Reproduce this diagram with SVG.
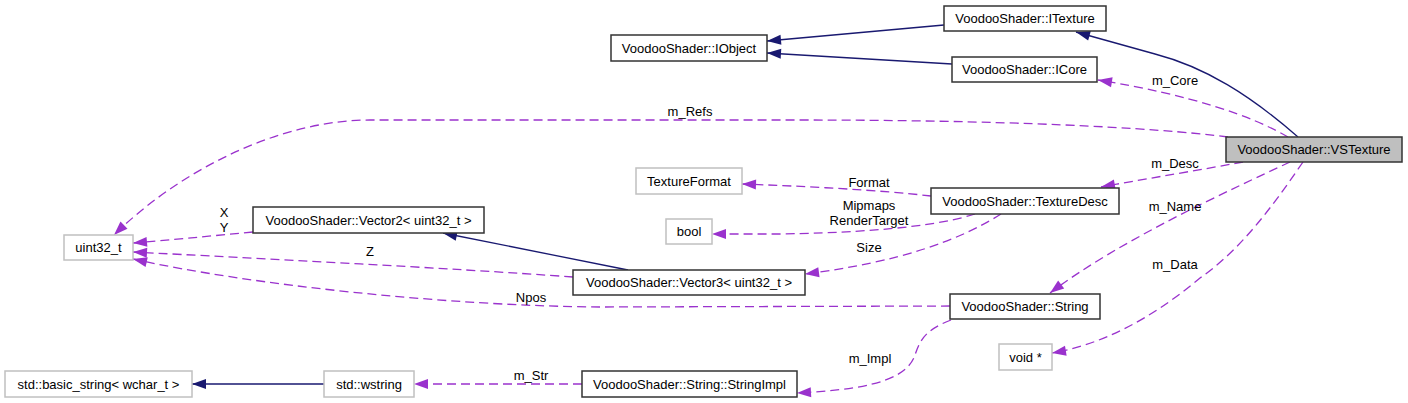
<svg xmlns="http://www.w3.org/2000/svg" width="1408" height="403" viewBox="0 0 1408 403">
<style>
text{font-family:"Liberation Sans",Arial,sans-serif;font-size:13px;fill:#000}
.n text{text-anchor:middle}
.b{fill:#fff;stroke:#333;stroke-width:1.5}
.g{fill:#fff;stroke:#c0c0c0;stroke-width:1.5}
.cur{fill:#bfbfbf;stroke:#333;stroke-width:1.5}
.inh{fill:none;stroke:#191970;stroke-width:1.3;marker-end:url(#ab)}
.use{fill:none;stroke:#9a32cd;stroke-width:1.3;stroke-dasharray:9,5;marker-end:url(#ap)}
.lbl{text-anchor:middle}
</style>
<defs>
<marker id="ab" markerUnits="userSpaceOnUse" markerWidth="16" markerHeight="12" refX="14" refY="5" orient="auto" overflow="visible"><polygon points="0,0 14,5 0,10" fill="#191970"/></marker>
<marker id="ap" markerUnits="userSpaceOnUse" markerWidth="16" markerHeight="12" refX="14" refY="5" orient="auto" overflow="visible"><polygon points="0,0 14,5 0,10" fill="#9a32cd"/></marker>
</defs>
<g id="edges">
<path class="inh" d="M944,25 L767,41"/>
<path class="inh" d="M952,64 L767,53"/>
<path class="inh" d="M1298,137 C1250,95 1205,67 1155,54 L1076,32"/>
<path class="use" d="M1288,137 C1250,115 1190,95 1098,80"/>
<path class="use" d="M1228,137 C1150,127 1000,120 800,120 L370,120 C280,120 180,170 114,235"/>
<path class="use" d="M1243,162 C1200,170 1150,178 1101,187"/>
<path class="use" d="M1290,162 C1230,190 1120,240 1050,293"/>
<path class="use" d="M1303,162 C1270,210 1240,250 1200,278 C1150,320 1100,345 1052,353"/>
<path class="use" d="M931,196 C880,190 800,186 742,184"/>
<path class="use" d="M975,214 C950,222 900,232 780,234 L712,234"/>
<path class="use" d="M1001,214 C960,240 900,262 805,274"/>
<path class="inh" d="M628,270 L443,233"/>
<path class="use" d="M253,232 C210,236 170,240 133,243"/>
<path class="use" d="M573,277 C450,268 250,258 133,252"/>
<path class="use" d="M950,306 L600,307 C450,306 250,285 133,259"/>
<path class="use" d="M951,320 C925,330 920,340 915,355 C905,385 850,390 797,393"/>
<path class="use" d="M582,384 L414,384"/>
<path class="inh" d="M324,384 L192,384"/>
<text class="lbl" x="690" y="116">m_Refs</text>
<text class="lbl" x="1175" y="85">m_Core</text>
<text class="lbl" x="1175" y="168">m_Desc</text>
<text class="lbl" x="1175" y="211">m_Name</text>
<text class="lbl" x="1175" y="269">m_Data</text>
<text class="lbl" x="869" y="187">Format</text>
<text class="lbl" x="869" y="210">Mipmaps</text>
<text class="lbl" x="869" y="225">RenderTarget</text>
<text class="lbl" x="869" y="252">Size</text>
<text class="lbl" x="224" y="217">X</text>
<text class="lbl" x="224" y="232">Y</text>
<text class="lbl" x="370" y="256">Z</text>
<text class="lbl" x="531" y="302">Npos</text>
<text class="lbl" x="870" y="363">m_Impl</text>
<text class="lbl" x="531" y="380">m_Str</text>
</g>
<g id="ITexture" class="n"><rect class="b" x="944" y="6" width="162" height="25"/><text x="1025" y="23">VoodooShader::ITexture</text></g>
<g id="IObject" class="n"><rect class="b" x="611" y="35" width="156" height="26"/><text x="689" y="52.5">VoodooShader::IObject</text></g>
<g id="ICore" class="n"><rect class="b" x="952" y="57" width="145" height="25"/><text x="1024.5" y="74">VoodooShader::ICore</text></g>
<g id="VSTexture" class="n"><rect class="cur" x="1226" y="137" width="176" height="25"/><text x="1314" y="154">VoodooShader::VSTexture</text></g>
<g id="TextureFormat" class="n"><rect class="g" x="636" y="168" width="106" height="26"/><text x="689" y="185.5">TextureFormat</text></g>
<g id="TextureDesc" class="n"><rect class="b" x="931" y="188" width="188" height="26"/><text x="1025" y="205.5">VoodooShader::TextureDesc</text></g>
<g id="uint32_t" class="n"><rect class="g" x="64" y="235" width="69" height="25"/><text x="98.5" y="252">uint32_t</text></g>
<g id="Vector2" class="n"><rect class="b" x="253" y="207" width="231" height="26"/><text x="368.5" y="224.5">VoodooShader::Vector2&lt; uint32_t &gt;</text></g>
<g id="bool" class="n"><rect class="g" x="666" y="219" width="46" height="25"/><text x="689" y="236">bool</text></g>
<g id="Vector3" class="n"><rect class="b" x="573" y="270" width="232" height="25"/><text x="689" y="287">VoodooShader::Vector3&lt; uint32_t &gt;</text></g>
<g id="String" class="n"><rect class="b" x="950" y="294" width="150" height="25"/><text x="1025" y="311">VoodooShader::String</text></g>
<g id="void" class="n"><rect class="g" x="999" y="344" width="53" height="26"/><text x="1025.5" y="361.5">void *</text></g>
<g id="basic_string" class="n"><rect class="g" x="5" y="371" width="187" height="26"/><text x="98.5" y="388.5">std::basic_string&lt; wchar_t &gt;</text></g>
<g id="wstring" class="n"><rect class="g" x="324" y="371" width="90" height="26"/><text x="369" y="388.5">std::wstring</text></g>
<g id="StringImpl" class="n"><rect class="b" x="582" y="371" width="215" height="26"/><text x="689.5" y="388.5">VoodooShader::String::StringImpl</text></g>
</svg>
